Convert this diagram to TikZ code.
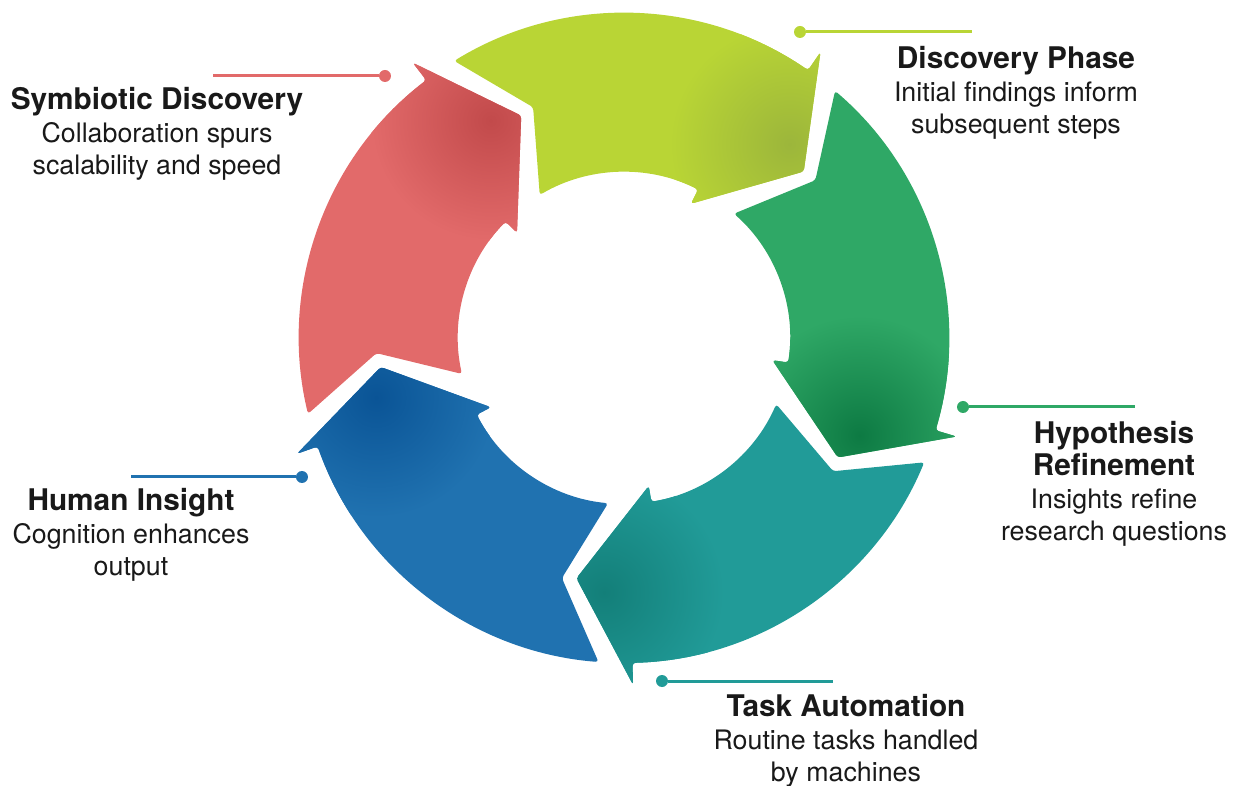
\documentclass[tikz,border=0pt]{standalone}
\usepackage{xcolor}
\usepackage{fontspec}
\setmainfont{TeX Gyre Heros}
\usetikzlibrary{positioning, calc}
\definecolor{symred}{HTML}{E26A6A}
\definecolor{symreddark}{HTML}{C24A4B}
\definecolor{discyellow}{HTML}{B9D535}
\definecolor{discyellowdark}{HTML}{9CB63B}
\definecolor{hypgreen}{HTML}{2FA866}
\definecolor{hypgreendark}{HTML}{0D7A43}
\definecolor{taskteal}{HTML}{219B98}
\definecolor{tasktealdark}{HTML}{137F79}
\definecolor{humblue}{HTML}{2072B0}
\definecolor{humbluedark}{HTML}{0A5496}

% one curved arrow of the cycle: #1 head angle, #2 colour, #3 shade colour
\newcommand{\cyclearrow}[3]{%
  \begin{scope}
    \path[clip, rounded corners=1.5pt]
      (#1+66:325) arc[start angle=#1+66, end angle=#1, radius=325]
      -- (#1:347) -- (#1-12.7:245) -- (#1+8:150) -- (#1+8:166)
      arc[start angle=#1+8, end angle=#1+65, radius=166]
      -- (#1+56:248) -- cycle;
    \fill[#2] (0,0) circle (360);
    \shade[inner color=#3, outer color=#2] (#1-6:255) circle (120);
  \end{scope}}
\newcommand{\phasetitle}[1]{{\fontsize{14.9}{16.4}\selectfont\bfseries #1}}

\begin{document}
\begin{tikzpicture}[
    x=0.5pt, y=0.5pt,
    dot/.style={circle, inner sep=0pt, minimum size=6pt},
    leader/.style={line width=1.5pt},
    phase/.style={align=center, inner sep=0pt, text=black!90, font=\fontsize{13.4}{16.2}\selectfont}
]
\useasboundingbox (-624,338) rectangle (612,-448);

% Cycle
\cyclearrow{127.5}{symred}{symreddark}
\cyclearrow{55.5}{discyellow}{discyellowdark}
\cyclearrow{-16.5}{hypgreen}{hypgreendark}
\cyclearrow{-88.5}{taskteal}{tasktealdark}
\cyclearrow{-160.5}{humblue}{humbluedark}

% Discovery Phase
\node[dot, fill=discyellow] (disc-dot) at (176,306) {};
\coordinate (disc-end) at (348,306);
\draw[leader, discyellow] (disc-dot) -- (disc-end);
\node[phase] (disc) at (392,245) {\phasetitle{Discovery Phase}\\Initial findings inform\\subsequent steps};

% Hypothesis Refinement
\node[dot, fill=hypgreen] (hyp-dot) at (339,-69) {};
\coordinate (hyp-end) at (511,-69);
\draw[leader, hypgreen] (hyp-dot) -- (hyp-end);
\node[phase] (hyp) at (490,-146) {\phasetitle{Hypothesis}\\\phasetitle{Refinement}\\Insights refine\\research questions};

% Task Automation
\node[dot, fill=taskteal] (task-dot) at (38,-343) {};
\coordinate (task-end) at (209,-343);
\draw[leader, taskteal] (task-dot) -- (task-end);
\node[phase] (task) at (222,-403) {\phasetitle{Task Automation}\\Routine tasks handled\\by machines};

% Human Insight
\node[dot, fill=humblue] (hum-dot) at (-322,-139) {};
\coordinate (hum-end) at (-493,-139);
\draw[leader, humblue] (hum-dot) -- (hum-end);
\node[phase] (hum) at (-493,-197) {\phasetitle{Human Insight}\\Cognition enhances\\output};

% Symbiotic Discovery
\node[dot, fill=symred] (sym-dot) at (-239,262) {};
\coordinate (sym-end) at (-411,262);
\draw[leader, symred] (sym-dot) -- (sym-end);
\node[phase] (sym) at (-467,204) {\phasetitle{Symbiotic Discovery}\\Collaboration spurs\\scalability and speed};

\end{tikzpicture}
\end{document}
